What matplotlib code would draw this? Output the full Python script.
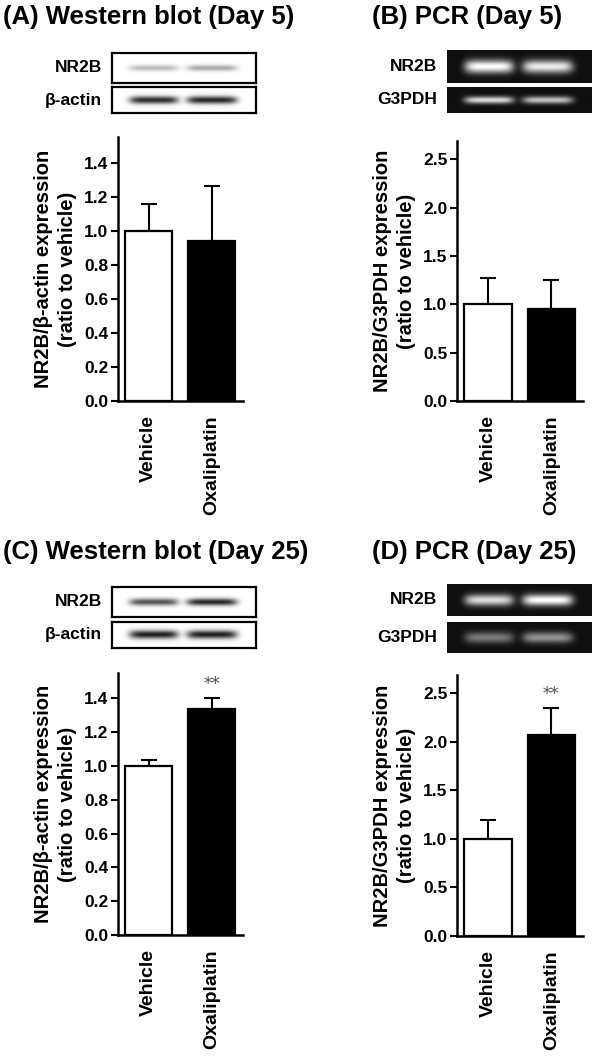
import numpy as np
import matplotlib
matplotlib.use("Agg")
import matplotlib.pyplot as plt

plt.rcParams['font.family'] = ['Liberation Sans', 'DejaVu Sans']

groups = ["Vehicle", "Oxaliplatin"]

# bar values (mean) and upper error (SEM)
wb_d5_mean = [1.0, 0.94]
wb_d5_err = [0.155, 0.32]
pcr_d5_mean = [1.0, 0.95]
pcr_d5_err = [0.27, 0.30]
wb_d25_mean = [1.0, 1.335]
wb_d25_err = [0.035, 0.065]
pcr_d25_mean = [1.0, 2.07]
pcr_d25_err = [0.20, 0.28]

wb_ticks = [0.0, 0.2, 0.4, 0.6, 0.8, 1.0, 1.2, 1.4]
pcr_ticks = [0.0, 0.5, 1.0, 1.5, 2.0, 2.5]

# band intensities per lane (0..1) for the blot/gel strips
wb_d5_nr2b = [0.30, 0.38]
wb_d5_actin = [0.92, 0.95]
pcr_d5_nr2b = [1.0, 0.92]
pcr_d5_g3pdh = [0.85, 0.75]
wb_d25_nr2b = [0.75, 0.95]
wb_d25_actin = [0.97, 0.97]
pcr_d25_nr2b = [0.85, 1.0]
pcr_d25_g3pdh = [0.45, 0.55]

W, H = 600, 1059
fig = plt.figure(figsize=(W / 100, H / 100), dpi=100)


def px_axes(x0, y0, x1, y1):
    return fig.add_axes([x0 / W, 1 - y1 / H, (x1 - x0) / W, (y1 - y0) / H])


def strip(x0, y0, x1, y1, label, vals, gel, sy):
    ax = px_axes(x0, y0, x1, y1)
    xs = np.linspace(0, 1, 300)
    ys = np.linspace(0, 1, 60)[:, None]
    lanes = [(0.12, 0.46), (0.52, 0.87)]
    img = np.zeros((60, 300))
    for (a, b), v in zip(lanes, vals):
        c, hw = (a + b) / 2, (b - a) / 2
        horiz = np.exp(-((xs - c) / hw) ** 6)
        img += v * horiz[None, :] * np.exp(-((ys - 0.5) / sy) ** 2)
    img = np.clip(img, 0, 1)
    if gel:
        ax.imshow(0.06 + 0.94 * img, cmap="gray", vmin=0, vmax=1,
                  extent=[0, 1, 0, 1], aspect="auto", interpolation="bilinear")
        for s in ax.spines.values():
            s.set_visible(False)
    else:
        ax.imshow(img * 0.9, cmap="gray_r", vmin=0, vmax=1,
                  extent=[0, 1, 0, 1], aspect="auto", interpolation="bilinear")
        for s in ax.spines.values():
            s.set_linewidth(1.6)
    ax.set_xticks([])
    ax.set_yticks([])
    ax.text(-0.07, 0.5, label, transform=ax.transAxes, ha="right", va="center",
            fontsize=12.5, fontweight="bold")


def bars(x0, y0, x1, y1, mean, err, ymax, ticks, ylabel, star=False):
    ax = px_axes(x0, y0, x1, y1)
    x = np.arange(len(groups))
    ax.bar(x, mean, width=0.75, color=["white", "black"], edgecolor="black",
           linewidth=1.6, zorder=2)
    ax.errorbar(x, mean, yerr=[np.zeros(len(err)), err], fmt="none",
                ecolor="black", elinewidth=1.5, capsize=5.5, capthick=1.5,
                zorder=1)
    if star:
        ax.text(x[1], mean[1] + err[1] + ymax * 0.02, "**", ha="center",
                va="bottom", fontsize=12, color="#555555", family="DejaVu Serif")
    ax.set_xlim(-0.49, 1.5)
    ax.set_ylim(0, ymax)
    ax.set_yticks(ticks)
    ax.set_yticklabels([f"{t:.1f}" for t in ticks], fontsize=12.5, fontweight="bold")
    ax.set_xticks(x)
    ax.set_xticklabels(groups, rotation=90, fontsize=14, fontweight="bold")
    ax.tick_params(axis="x", length=0, pad=10)
    ax.tick_params(axis="y", direction="out", length=5, width=1.5, pad=2)
    ax.spines["top"].set_visible(False)
    ax.spines["right"].set_visible(False)
    ax.spines["left"].set_linewidth(1.8)
    ax.spines["bottom"].set_linewidth(1.8)
    ax.set_ylabel(ylabel, fontsize=14.5, fontweight="bold", labelpad=5,
                  linespacing=1.35)
    return ax


wb_label = "NR2B/\u03b2-actin expression\n(ratio to vehicle)"
pcr_label = "NR2B/G3PDH expression\n(ratio to vehicle)"

# titles
fig.text(3 / W, 1 - 17 / H, "(A) Western blot (Day 5)", fontsize=18.5,
         fontweight="bold", va="center", ha="left")
fig.text(372 / W, 1 - 17 / H, "(B) PCR (Day 5)", fontsize=18.5,
         fontweight="bold", va="center", ha="left")
fig.text(3 / W, 1 - 552 / H, "(C) Western blot (Day 25)", fontsize=18.5,
         fontweight="bold", va="center", ha="left")
fig.text(372 / W, 1 - 552 / H, "(D) PCR (Day 25)", fontsize=18.5,
         fontweight="bold", va="center", ha="left")

# blots / gels
strip(112, 53, 256, 83, "NR2B", wb_d5_nr2b, False, 0.10)
strip(112, 87, 256, 113, "\u03b2-actin", wb_d5_actin, False, 0.15)
strip(447, 50, 592, 83, "NR2B", pcr_d5_nr2b, True, 0.2)
strip(447, 87, 592, 113, "G3PDH", pcr_d5_g3pdh, True, 0.14)
strip(112, 587, 256, 617, "NR2B", wb_d25_nr2b, False, 0.12)
strip(112, 622, 256, 648, "\u03b2-actin", wb_d25_actin, False, 0.16)
strip(447, 584, 592, 616, "NR2B", pcr_d25_nr2b, True, 0.18)
strip(447, 622, 592, 653, "G3PDH", pcr_d25_g3pdh, True, 0.18)

# bar charts
bars(118, 137, 243, 401, wb_d5_mean, wb_d5_err, 1.55, wb_ticks, wb_label)
bars(457, 141, 583, 401, pcr_d5_mean, pcr_d5_err, 2.69, pcr_ticks, pcr_label)
bars(118, 673, 243, 935, wb_d25_mean, wb_d25_err, 1.55, wb_ticks, wb_label, star=True)
bars(457, 675, 583, 936, pcr_d25_mean, pcr_d25_err, 2.69, pcr_ticks, pcr_label, star=True)

fig.savefig("out.png", dpi=100)
